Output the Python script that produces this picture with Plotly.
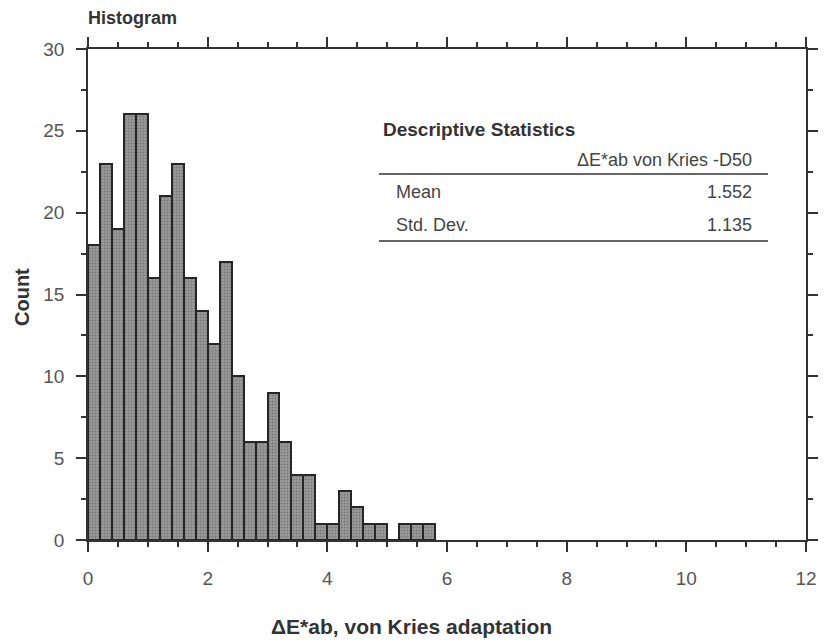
import plotly.graph_objects as go

bin_width = 0.2
bin_start = 0.0
counts = [18, 23, 19, 26, 26, 16, 21, 23, 16, 14, 12, 17, 10, 6, 6, 9, 6, 4, 4, 1,
          1, 3, 2, 1, 1, 0, 1, 1, 1]
x_ticks = [0, 2, 4, 6, 8, 10, 12]
y_ticks = [0, 5, 10, 15, 20, 25, 30]
stat_names = ["Mean", "Std. Dev."]
stat_values = ["1.552", "1.135"]
stat_header = "ΔE*ab von Kries -D50"

centers = [bin_start + bin_width * (i + 0.5) for i in range(len(counts))]

# page body has an 8px offset; figure placed so plot area matches reference
OFF = 8
W, H = 821, 634
L, T = 88 - OFF, 49 - OFF
pw, ph = 718, 491
R = W - L - pw
B = H - T - ph

def px(xr):
    return (xr - 88) / pw

def py(yr):
    return (540 - yr) / ph

fig = go.Figure()
fig.add_trace(go.Bar(
    x=centers, y=counts, width=bin_width,
    marker=dict(color="#808080",
                line=dict(color="#262626", width=2),
                pattern=dict(shape=".", fgcolor="#555555", bgcolor="#9c9c9c", size=3, solidity=0.4)),
    hoverinfo="x+y", showlegend=False))

font_fam = "Liberation Sans, Arial, Helvetica, sans-serif"
axis_common = dict(showline=True, linecolor="#333", linewidth=1.5, mirror="allticks",
                   ticks="outside", ticklen=10, tickwidth=1.5, tickcolor="#333",
                   showgrid=False, zeroline=False,
                   tickfont=dict(family=font_fam, size=19, color="#555"))

fig.update_xaxes(range=[0, 12], tickvals=x_ticks, ticktext=[str(v) for v in x_ticks],
                 minor=dict(dtick=0.5, tick0=0, ticks="outside", ticklen=5, tickwidth=1.5, tickcolor="#333"),
                 ticklabelstandoff=10,
                 **axis_common)
fig.update_yaxes(range=[0, 30], tickvals=y_ticks, ticktext=[str(v) for v in y_ticks],
                 minor=dict(dtick=2.5, tick0=0, ticks="outside", ticklen=5, tickwidth=1.5, tickcolor="#333"),
                 ticklabelstandoff=8,
                 **axis_common)

ann = []
def add(text, xr, yr, anchor="left", size=17, color="#444", angle=0):
    ann.append(dict(text=text, x=px(xr), y=py(yr), xref="paper", yref="paper",
                    xanchor=anchor, yanchor="middle", showarrow=False, textangle=angle,
                    font=dict(family=font_fam, size=size, color=color)))

add("<b>Histogram</b>", 86, 18, size=18, color="#333")
add("<b>ΔE*ab, von Kries adaptation</b>", 411, 626, anchor="center", size=21, color="#333")
add("<b>Count</b>", 22, 297, anchor="center", size=20, color="#333", angle=-90)
add("<b>Descriptive Statistics</b>", 381, 129, size=19, color="#333")
add(stat_header, 754, 160, anchor="right", size=18, color="#444")
row_y = [192, 225]
for name, val, yy in zip(stat_names, stat_values, row_y):
    add(name, 394, yy, size=18)
    add(val, 754, yy, anchor="right", size=18)

shapes = []
for yy in [174, 241]:
    shapes.append(dict(type="line", xref="paper", yref="paper", x0=px(379), x1=px(768),
                       y0=py(yy), y1=py(yy), line=dict(color="#333", width=1.6)))

fig.update_layout(width=W, height=H, margin=dict(l=L, r=R, t=T, b=B),
                  paper_bgcolor="white", plot_bgcolor="white", bargap=0,
                  annotations=ann, shapes=shapes,
                  font=dict(family=font_fam))

fig.write_html("out.html")
